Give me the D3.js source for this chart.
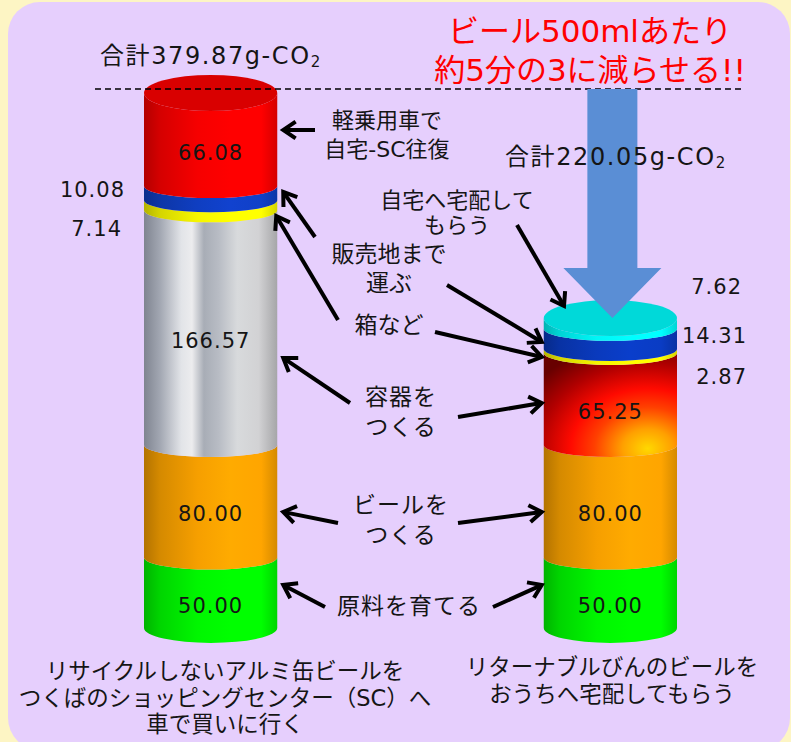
<!DOCTYPE html>
<html>
<head>
<meta charset="utf-8">
<script src="https://cdn.jsdelivr.net/npm/d3@7"></script>
<style>
  body { margin: 0; background: #fdf5c4; }
  svg { display: block; font-family: "DejaVu Sans", "Noto Sans CJK JP", sans-serif; }
</style>
</head>
<body>
<svg id="chart" width="791" height="742"></svg>
<script>
// data (g-CO2 per 500ml of beer), stacked bottom -> top
const cases = ["can", "bottle"];
const stages = ["原料を育てる", "ビールをつくる", "容器をつくる", "箱など", "販売地まで運ぶ", "消費者のもとへ"];
const canValues = [50.00, 80.00, 166.57, 7.14, 10.08, 66.08];
const bottleValues = [50.00, 80.00, 65.25, 2.87, 14.31, 7.62];
const canTotal = "合計379.87g-CO";
const bottleTotal = "合計220.05g-CO";
const canCaption = ["リサイクルしないアルミ缶ビールを", "つくばのショッピングセンター（SC）へ", "車で買いに行く"];
const bottleCaption = ["リターナブルびんのビールを", "おうちへ宅配してもらう"];
const headline = ["ビール500mlあたり", "約5分の3に減らせる!!"];
const stageLabels = [["原料を育てる"], ["ビールを", "つくる"], ["容器を", "つくる"], ["箱など"], ["販売地まで", "運ぶ"]];
const canTransport = ["軽乗用車で", "自宅-SC往復"];
const bottleTransport = ["自宅へ宅配して", "もらう"];

// segment colours
const canColors = ["#00ff00", "#ffa500", "metal", "#ffff00", "#1040c8", "#ff0000"];
const bottleColors = ["#00ff00", "#ffa500", "fire", "#ffff00", "#0a3cc4", "#00ffff"];

const svg = d3.select("#chart");
const defs = svg.append("defs");

// background panel
svg.append("rect")
  .attr("x", 8).attr("y", 2)
  .attr("width", 782).attr("height", 748)
  .attr("rx", 32)
  .attr("fill", "#e6cffd");

// scales
const x = d3.scaleBand()
  .domain(cases)
  .range([144, 677])
  .paddingInner(2 / 3)
  .paddingOuter(0);

const y = d3.scaleLinear()
  .domain([0, d3.sum(canValues)])
  .range([628, 93]);

// gradients
function bodyGradient(id, c) {
  const g = defs.append("linearGradient").attr("id", id)
    .attr("x1", 0).attr("x2", 1).attr("y1", 0).attr("y2", 0);
  const stops = [
    [0, d3.color(c).darker(1.0)],
    [0.12, d3.color(c).darker(0.5)],
    [0.4, d3.color(c).darker(0.1)],
    [0.65, d3.color(c).brighter(0.1)],
    [0.88, d3.color(c)],
    [1, d3.color(c).darker(0.5)]
  ];
  g.selectAll("stop").data(stops).join("stop")
    .attr("offset", d => d[0])
    .attr("stop-color", d => d[1].formatHex());
}

const metal = defs.append("linearGradient").attr("id", "metal")
  .attr("x1", 0).attr("x2", 1).attr("y1", 0).attr("y2", 0);
metal.selectAll("stop")
  .data([[0, "#7f8490"], [0.12, "#a2a7b2"], [0.28, "#e2e4e8"], [0.36, "#ececee"], [0.45, "#a8adb6"],
         [0.56, "#b8bcc4"], [0.7, "#d8dadc"], [0.86, "#d2d2d4"], [1, "#a6a6a8"]])
  .join("stop").attr("offset", d => d[0]).attr("stop-color", d => d[1]);

const fire = defs.append("radialGradient").attr("id", "fire")
  .attr("cx", 0.78).attr("cy", 0.92).attr("r", 1.05);
fire.selectAll("stop")
  .data([[0, "#ffd800"], [0.18, "#ffa000"], [0.38, "#ff4000"], [0.55, "#ff0a00"], [0.78, "#b00000"], [1, "#680000"]])
  .join("stop").attr("offset", d => d[0]).attr("stop-color", d => d[1]);

function fillFor(c, id) {
  if (c === "metal" || c === "fire") return "url(#" + c + ")";
  bodyGradient(id, c);
  return "url(#" + id + ")";
}

// cylinder drawing
const ryTop = 18, ryMid = 12, ryBottom = 15;

function segPath(cx, rx, yb, yt, rt, rb) {
  return "M" + (cx - rx) + "," + yt +
    "A" + rx + "," + rt + " 0 0 0 " + (cx + rx) + "," + yt +
    "L" + (cx + rx) + "," + yb +
    "A" + rx + "," + rb + " 0 0 1 " + (cx - rx) + "," + yb + "Z";
}

function drawCylinder(key, values, colors) {
  const cx = x(key) + x.bandwidth() / 2;
  const rx = x.bandwidth() / 2;
  const ends = d3.cumsum(values);
  const segs = values.map((v, i) => ({
    v: v, i: i, y0: i === 0 ? 0 : ends[i - 1], y1: ends[i], color: colors[i]
  }));
  const g = svg.append("g");
  g.selectAll("path")
    .data(segs)
    .join("path")
    .attr("d", d => segPath(cx, rx, y(d.y0), y(d.y1),
      d.i === segs.length - 1 ? ryTop : ryMid,
      d.i === 0 ? ryBottom : ryMid))
    .attr("fill", d => fillFor(d.color, key + "-g" + d.i));
  const top = segs[segs.length - 1];
  g.append("ellipse")
    .attr("cx", cx).attr("cy", y(top.y1))
    .attr("rx", rx).attr("ry", ryTop)
    .attr("fill", d3.color(top.color).darker(0.45).formatHex());
  return { cx: cx, rx: rx, segs: segs };
}

const can = drawCylinder("can", canValues, canColors);
const bottle = drawCylinder("bottle", bottleValues, bottleColors);

// dashed total line at the can's top
svg.append("line")
  .attr("x1", 95).attr("x2", 745)
  .attr("y1", y(d3.sum(canValues)) - 4).attr("y2", y(d3.sum(canValues)) - 4)
  .attr("stroke", "#000").attr("stroke-width", 1.4)
  .attr("stroke-dasharray", "6,4");

// big blue arrow
const bx = bottle.cx + 2;
svg.append("path")
  .attr("d", "M" + (bx - 25) + ",89 L" + (bx + 25) + ",89 L" + (bx + 25) + ",268 L" + (bx + 49) + ",268 L" +
    bx + ",318 L" + (bx - 49) + ",268 L" + (bx - 25) + ",268 Z")
  .attr("fill", "#5a8ed5");

// text helpers
function lines(arr, cx, cy, size, lh, opts) {
  opts = opts || {};
  const t = svg.append("g");
  arr.forEach((s, i) => {
    t.append("text")
      .attr("x", cx).attr("y", cy + i * lh)
      .attr("text-anchor", opts.anchor || "middle")
      .attr("dominant-baseline", "central")
      .attr("font-size", size)
      .attr("letter-spacing", opts.ls || 0)
      .attr("fill", opts.fill || "#151515")
      .text(s);
  });
}

function total(label, x0, cy) {
  const t = svg.append("text")
    .attr("x", x0).attr("y", cy)
    .attr("dominant-baseline", "central")
    .attr("font-size", 24).attr("letter-spacing", 1.6).attr("fill", "#151515");
  t.append("tspan").text(label);
  t.append("tspan").attr("font-size", 15).attr("dy", 6).text("2");
}

total(canTotal, 100, 56);
total(bottleTotal, 505, 157);

lines(headline, 590, 31, 31, 39, { fill: "#ff0000" });

// values inside the cylinders
const inside = [[can, [0, 1, 2, 5]], [bottle, [0, 1, 2]]];
inside.forEach(([cyl, idx]) => {
  idx.forEach(i => {
    const s = cyl.segs[i];
    lines([s.v.toFixed(2)], cyl.cx, (y(s.y0) + y(s.y1)) / 2 + 13, 21, 0, { ls: 1 });
  });
});

// small values outside
lines([canValues[4].toFixed(2)], 125, 190, 21, 0, { anchor: "end", ls: 1 });
lines([canValues[3].toFixed(2)], 122, 229, 21, 0, { anchor: "end", ls: 1 });
lines([bottleValues[5].toFixed(2)], 742, 287, 21, 0, { anchor: "end", ls: 1 });
lines([bottleValues[4].toFixed(2)], 747, 336, 21, 0, { anchor: "end", ls: 1 });
lines([bottleValues[3].toFixed(2)], 747, 377, 21, 0, { anchor: "end", ls: 1 });

// stage labels
lines(canTransport, 387, 120, 22, 29);
lines(bottleTransport, 457, 200, 22, 25);
lines(stageLabels[4], 389, 254, 23, 29);
lines(stageLabels[3], 389, 325, 23, 0);
lines(stageLabels[2], 401, 397, 23, 30, { ls: 1 });
lines(stageLabels[1], 401, 505, 23, 30, { ls: 1 });
lines(stageLabels[0], 409, 606, 23, 0, { ls: 1 });

// captions
lines(canCaption, 225, 671, 22.5, 26.5);
lines(bottleCaption, 612, 667, 22.5, 27);

// arrows
function arrow(x1, y1, x2, y2) {
  const a = Math.atan2(y1 - y2, x1 - x2);
  const L = 15, w = 0.6;
  const g = svg.append("g").attr("stroke", "#000").attr("stroke-width", 4).attr("fill", "none");
  g.append("line")
    .attr("x1", x1).attr("y1", y1)
    .attr("x2", x2 + Math.cos(a) * 2).attr("y2", y2 + Math.sin(a) * 2);
  g.append("path")
    .attr("stroke-linejoin", "miter")
    .attr("d", "M" + (x2 + L * Math.cos(a + w)) + "," + (y2 + L * Math.sin(a + w)) +
      "L" + x2 + "," + y2 +
      "L" + (x2 + L * Math.cos(a - w)) + "," + (y2 + L * Math.sin(a - w)));
}

const lx = can.cx + can.rx + 6;
const rx = bottle.cx - bottle.rx - 2;
arrow(315, 130, lx, 130);
arrow(315, 237, lx, 192);
arrow(338, 320, lx - 7, 216);
arrow(350, 403, lx, 358);
arrow(458, 417, rx, 403);
arrow(338, 523, lx, 512);
arrow(458, 523, rx, 512);
arrow(325, 607, lx, 585);
arrow(493, 607, rx, 585);
arrow(517, 225, 564, 306);
arrow(447, 285, rx, 342);
arrow(435, 332, rx, 357);
</script>
</body>
</html>
